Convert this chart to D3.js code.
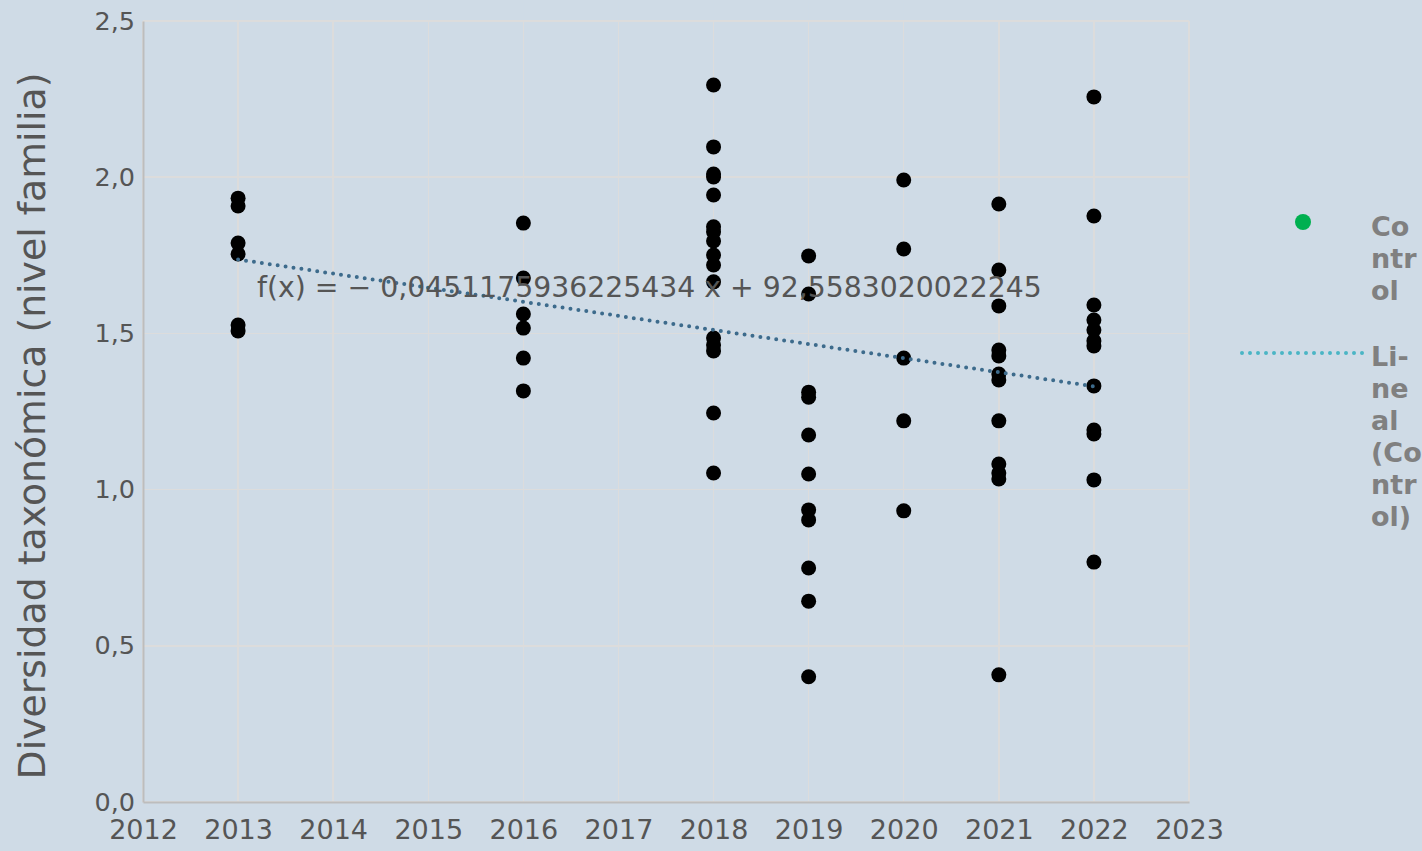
<!DOCTYPE html>
<meta charset="utf-8">
<style>
html, body { margin: 0; background: #cfdbe6; }
svg { display: block; font-family: "DejaVu Sans", Verdana, sans-serif; }
.grid line { stroke: #dcdcdc; stroke-width: 1.5; shape-rendering: crispEdges; }
.tick text { fill: #555; }
</style>
<body>
<svg width="1422" height="851"></svg>
<script src="https://cdn.jsdelivr.net/npm/d3@7"></script>
<script>
// data
var years = [2013, 2016, 2018, 2019, 2020, 2021, 2022]
var values2013 = [1.933, 1.908, 1.789, 1.754, 1.527, 1.508]
var values2016 = [1.853, 1.677, 1.562, 1.517, 1.421, 1.316]
var values2018 = [2.295, 2.097, 2.010, 2.001, 1.943, 1.841, 1.825, 1.796, 1.751, 1.719, 1.665, 1.485, 1.463, 1.444, 1.245, 1.053]
var values2019 = [1.748, 1.626, 1.312, 1.296, 1.175, 1.050, 0.935, 0.903, 0.749, 0.643, 0.401]
var values2020 = [1.991, 1.770, 1.421, 1.220, 0.932]
var values2021 = [1.914, 1.703, 1.588, 1.447, 1.428, 1.370, 1.351, 1.220, 1.082, 1.053, 1.034, 0.407]
var values2022 = [2.257, 1.876, 1.591, 1.543, 1.511, 1.476, 1.460, 1.332, 1.191, 1.178, 1.031, 0.768]
var xTicks = d3.range(2012, 2024)
var yTicks = [0, 0.5, 1, 1.5, 2, 2.5]
var slope = -0.0451175936225434, intercept = 92.5583020022245
var equation = "f(x) = − 0,0451175936225434 x + 92,5583020022245"
var legendLabels = [["Co", "ntr", "ol"], ["Li-", "ne", "al", "(Co", "ntr", "ol)"]]

var allValues = [values2013, values2016, values2018, values2019, values2020, values2021, values2022]
var points = []
years.forEach(function (yr, i) {
  allValues[i].forEach(function (v) { points.push({ x: yr, y: v }) })
})

var svg = d3.select("svg")
var x = d3.scaleLinear().domain([2012, 2023]).range([143, 1189])
var y = d3.scaleLinear().domain([0, 2.5]).range([802, 21])
var fmt = function (d) { return d3.format(".1f")(d).replace(".", ",") }

// grid
var grid = svg.append("g").attr("class", "grid")
grid.selectAll(".v").data(xTicks).enter().append("line")
  .attr("x1", x).attr("x2", x).attr("y1", y(0)).attr("y2", y(2.5))
grid.selectAll(".h").data(yTicks).enter().append("line")
  .attr("x1", x(2012)).attr("x2", x(2023)).attr("y1", y).attr("y2", y)

// axes
var xAxis = svg.append("g").attr("transform", "translate(0," + y(0) + ")")
  .call(d3.axisBottom(x).tickValues(xTicks).tickFormat(d3.format("d")).tickSize(0).tickPadding(18))
xAxis.selectAll("text").attr("font-size", 27).attr("font-family", "DejaVu Sans")
var yAxis = svg.append("g").attr("transform", "translate(" + x(2012) + ",0)")
  .call(d3.axisLeft(y).tickValues(yTicks).tickFormat(fmt).tickSize(0).tickPadding(8))
yAxis.selectAll("text").attr("font-size", 25.5).attr("font-family", "DejaVu Sans")
svg.selectAll(".domain").attr("stroke", "#bdbdbd").attr("stroke-width", 2)

// y title
svg.append("text")
  .attr("transform", "translate(45,426) rotate(-90)")
  .attr("text-anchor", "middle")
  .attr("font-size", 37.8)
  .attr("fill", "#555")
  .text("Diversidad taxonómica (nivel familia)")

// points
svg.append("g").selectAll("circle").data(points).enter().append("circle")
  .attr("cx", function (d) { return x(d.x) })
  .attr("cy", function (d) { return y(d.y) })
  .attr("r", 7.5)
  .attr("fill", "#000")

// trend
svg.append("line")
  .attr("x1", x(2013)).attr("y1", y(slope * 2013 + intercept))
  .attr("x2", x(2022)).attr("y2", y(slope * 2022 + intercept))
  .attr("stroke", "#3d6b8c").attr("stroke-width", 4)
  .attr("stroke-linecap", "round").attr("stroke-dasharray", "0,8")

svg.append("text")
  .attr("x", 257).attr("y", 297)
  .attr("font-size", 28.3).attr("fill", "#555")
  .text(equation)

// legend
svg.append("circle").attr("cx", 1303).attr("cy", 222).attr("r", 8).attr("fill", "#00b050")
svg.append("line").attr("x1", 1242).attr("x2", 1364).attr("y1", 353).attr("y2", 353)
  .attr("stroke", "#4bb5c5").attr("stroke-width", 4)
  .attr("stroke-linecap", "round").attr("stroke-dasharray", "0,8")

var legendStarts = [236, 366]
legendLabels.forEach(function (lines, i) {
  var t = svg.append("text").attr("font-size", 27).attr("font-weight", "bold").attr("fill", "#808080")
  lines.forEach(function (s, j) {
    t.append("tspan").attr("x", 1371).attr("y", legendStarts[i] + j * 32).text(s)
  })
})
</script>
</body>
